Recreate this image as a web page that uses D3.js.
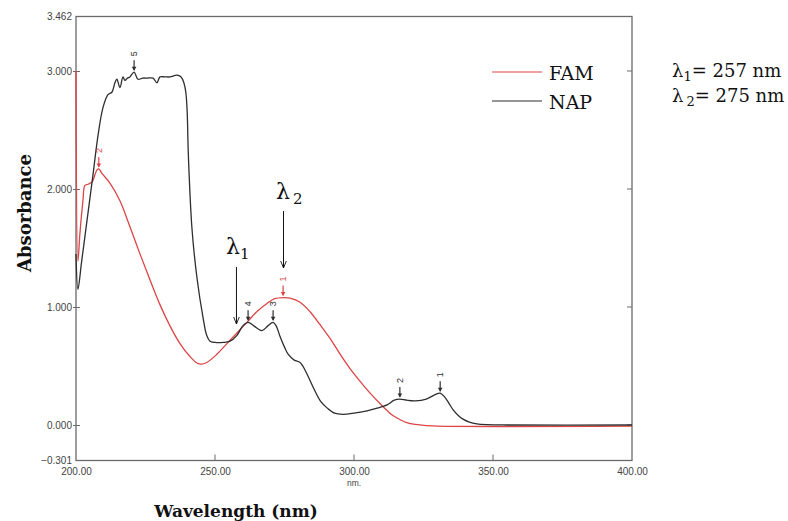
<!DOCTYPE html>
<html>
<head>
<meta charset="utf-8">
<script src="https://cdn.jsdelivr.net/npm/d3@7"></script>
<style>
  html, body { margin: 0; padding: 0; background: #fff; }
  svg { display: block; }
</style>
</head>
<body>
<svg id="chart" width="788" height="521"></svg>
<script>
// ---------- data ----------
const famSpectrum = [
  [200, 3.0], [200.7, 1.39], [201.4, 1.62], [202.5, 1.90], [203.2, 2.03], [204.3, 2.04],
  [205.8, 2.06], [206.8, 2.12], [207.5, 2.16], [208.2, 2.17], [209.4, 2.13], [212.2, 2.05],
  [215.8, 1.90], [219.4, 1.68], [223, 1.45], [226.6, 1.23], [230.2, 1.02], [233.8, 0.84],
  [237.4, 0.69], [241, 0.58], [243.5, 0.525], [245, 0.515], [247.1, 0.53], [250.7, 0.60],
  [254.3, 0.69], [257.9, 0.78], [261.9, 0.88], [265, 0.96], [268.7, 1.03], [271.5, 1.07],
  [274.5, 1.08], [277, 1.075], [280.6, 1.04], [284.2, 0.96], [287.8, 0.85], [291.5, 0.73],
  [295, 0.60], [298.5, 0.48], [302.2, 0.37], [305.8, 0.27], [309.4, 0.18], [312, 0.12],
  [314, 0.08], [317, 0.04], [319, 0.02], [322, 0.005], [326, -0.005], [330, -0.01], [400, -0.01]
];
const napSpectrum = [
  [200, 1.45], [200.7, 1.15], [202, 1.38], [204, 1.74], [206, 2.10], [207.9, 2.45],
  [209.7, 2.69], [211.5, 2.80], [212.9, 2.82], [214.0, 2.90], [214.7, 2.93], [215.8, 2.86],
  [216.9, 2.95], [217.6, 2.92], [218.5, 2.94], [219.4, 2.95], [220.9, 2.99], [222.3, 2.93],
  [224, 2.94], [225.5, 2.94], [227.7, 2.94], [229.1, 2.90], [230.2, 2.95], [232, 2.95],
  [233.8, 2.95], [236.3, 2.965], [237.8, 2.95], [238.8, 2.90], [239.5, 2.82], [240.0, 2.65],
  [240.4, 2.30], [241.7, 1.67], [243.5, 1.25], [245.7, 0.91], [247, 0.76], [248.2, 0.71],
  [250, 0.70], [253, 0.70], [255.4, 0.71], [257.9, 0.76], [260, 0.84], [261.9, 0.87],
  [264, 0.84], [266.9, 0.80], [269, 0.84], [270.9, 0.87], [272, 0.84], [273.4, 0.75],
  [275, 0.66], [276.3, 0.60], [278.5, 0.55], [280.6, 0.53], [282.5, 0.46], [285.3, 0.32],
  [288, 0.20], [290.3, 0.145], [293, 0.10], [296, 0.09], [300, 0.10], [304.7, 0.12],
  [308, 0.14], [311.9, 0.17], [314.5, 0.21], [316.5, 0.22], [319, 0.21], [322, 0.205],
  [326, 0.22], [329, 0.255], [331, 0.27], [332.5, 0.24], [334, 0.19], [335.6, 0.13],
  [337.5, 0.08], [339.2, 0.05], [341.5, 0.025], [344.2, 0.01], [348, 0.003], [355, 0], [400, 0]
];
const famPeaks = [ {n: "2", w: 208.2, a: 2.17}, {n: "1", w: 274.5, a: 1.08} ];
const napPeaks = [ {n: "5", w: 220.9, a: 2.99}, {n: "4", w: 261.9, a: 0.87}, {n: "3", w: 270.9, a: 0.87},
                   {n: "2", w: 316.5, a: 0.22}, {n: "1", w: 331, a: 0.27} ];
const xTicks = [200, 250, 300, 350, 400];
const yTicks = [-0.301, 0, 1, 2, 3, 3.462];
const seriesNames = ["FAM", "NAP"];
const lambda1 = 257, lambda2 = 275;

// ---------- layout ----------
const svg = d3.select("#chart");
const RED = "#de4446", DARK = "#2e2e2e", FRAME = "#6a6a6a";
const x = d3.scaleLinear().domain([200, 400]).range([76, 632]);
const y = d3.scaleLinear().domain([-0.301, 3.462]).range([460.5, 16.5]);

svg.append("rect").attr("width", 788).attr("height", 521).attr("fill", "#fff");

// frame
svg.append("rect")
  .attr("x", x(200)).attr("y", y(3.462))
  .attr("width", x(400) - x(200)).attr("height", y(-0.301) - y(3.462))
  .attr("fill", "none").attr("stroke", FRAME).attr("stroke-width", 1.3);

// y axis
const yAxis = d3.axisLeft(y).tickValues(yTicks).tickFormat(d3.format(".3f")).tickSize(3).tickPadding(2);
const gy = svg.append("g").attr("transform", `translate(${x(200)},0)`).call(yAxis);
gy.select(".domain").remove();
gy.selectAll(".tick line").attr("stroke", FRAME).attr("x2", 4).attr("x1", -3)
  .attr("display", d => (d === -0.301 || d === 3.462) ? "none" : null);
gy.selectAll(".tick text").attr("fill", "#444").attr("font-family", "Liberation Sans, Arial, sans-serif")
  .attr("font-size", 10).attr("x", -4);

// right inner ticks
svg.append("g").selectAll("line").data([0, 1, 2, 3]).join("line")
  .attr("x1", x(400) - 5).attr("x2", x(400)).attr("y1", d => y(d)).attr("y2", d => y(d))
  .attr("stroke", FRAME).attr("stroke-width", 1);

// x axis
const xAxis = d3.axisBottom(x).tickValues(xTicks).tickFormat(d3.format(".2f")).tickSize(0).tickPadding(7);
const gx = svg.append("g").attr("transform", `translate(0,${y(-0.301)})`).call(xAxis);
gx.select(".domain").remove();
gx.selectAll(".tick text").attr("fill", "#444").attr("font-family", "Liberation Sans, Arial, sans-serif")
  .attr("font-size", 10);
svg.append("g").selectAll("line").data(xTicks.slice(1, -1)).join("line")
  .attr("x1", d => x(d)).attr("x2", d => x(d)).attr("y1", y(-0.301)).attr("y2", y(-0.301) - 6)
  .attr("stroke", FRAME).attr("stroke-width", 1);
svg.append("text").attr("x", x(300)).attr("y", 486).attr("text-anchor", "middle")
  .attr("font-family", "Liberation Sans, Arial, sans-serif").attr("font-size", 8.5).attr("fill", "#444").text("nm.");

// axis titles
svg.append("text").attr("transform", `translate(31,213) rotate(-90)`).attr("text-anchor", "middle")
  .attr("font-family", "DejaVu Serif, serif").attr("font-weight", "bold").attr("font-size", 18)
  .attr("fill", "#111").text("Absorbance");
svg.append("text").attr("x", 236).attr("y", 517).attr("text-anchor", "middle")
  .attr("font-family", "DejaVu Serif, serif").attr("font-weight", "bold").attr("font-size", 17)
  .attr("fill", "#111").text("Wavelength (nm)");

// curves
const lineSmooth = d3.line().x(d => x(d[0])).y(d => y(d[1])).curve(d3.curveCatmullRom.alpha(0.5));
svg.append("path").datum(famSpectrum).attr("d", lineSmooth).attr("fill", "none")
  .attr("stroke", RED).attr("stroke-width", 1.3);
svg.append("path").datum(napSpectrum).attr("d", lineSmooth).attr("fill", "none")
  .attr("stroke", DARK).attr("stroke-width", 1.3);

// peak markers
function drawPeaks(peaks, color) {
  const g = svg.append("g");
  peaks.forEach(p => {
    const px = x(p.w), py = y(p.a);
    g.append("line").attr("x1", px).attr("x2", px).attr("y1", py - 2).attr("y2", py - 12)
      .attr("stroke", color).attr("stroke-width", 1.2);
    g.append("path").attr("d", `M${px - 2.3},${py - 5.5}L${px + 2.3},${py - 5.5}L${px},${py - 1.5}Z`)
      .attr("fill", color);
    g.append("text").attr("transform", `translate(${px},${py - 18.5}) rotate(-90)`)
      .attr("text-anchor", "middle").attr("dominant-baseline", "central")
      .attr("font-family", "Liberation Sans, Arial, sans-serif").attr("font-size", 9)
      .attr("fill", color).text(p.n);
  });
}
drawPeaks(famPeaks, RED);
drawPeaks(napPeaks, DARK);

// lambda annotations in plot
const defs = svg.append("defs");
defs.append("marker").attr("id", "arr").attr("viewBox", "0 0 10 10").attr("refX", 10).attr("refY", 5)
  .attr("markerWidth", 7).attr("markerHeight", 7).attr("orient", "auto-start-reverse")
  .attr("markerUnits", "userSpaceOnUse")
  .append("path").attr("d", "M0,1L10,5L0,9").attr("fill", "none").attr("stroke", "#111").attr("stroke-width", 1.3);

function lambdaLabel(g, tx, ty, sub, size, gap) {
  const t = g.append("text").attr("x", tx).attr("y", ty)
    .attr("font-family", "DejaVu Serif, serif").attr("font-size", size).attr("fill", "#111");
  t.append("tspan").text("λ");
  t.append("tspan").attr("dx", gap).attr("dy", size * 0.22).attr("font-size", size * 0.68).text(sub);
  return t;
}
const ann = svg.append("g");
ann.append("line").attr("x1", x(lambda1) + 2).attr("x2", x(lambda1) + 2).attr("y1", 267).attr("y2", 324)
  .attr("stroke", "#111").attr("stroke-width", 1).attr("marker-end", "url(#arr)");
ann.append("line").attr("x1", x(lambda2) - 1).attr("x2", x(lambda2) - 1).attr("y1", 211).attr("y2", 268)
  .attr("stroke", "#111").attr("stroke-width", 1).attr("marker-end", "url(#arr)");
lambdaLabel(ann, 226, 254, "1", 22, 0);
lambdaLabel(ann, 276, 199, "2", 22, 3);

// legend
const legend = svg.append("g");
const legendItems = [ {name: seriesNames[0], color: RED, y: 72}, {name: seriesNames[1], color: DARK, y: 101} ];
legendItems.forEach(it => {
  legend.append("line").attr("x1", 492).attr("x2", 542).attr("y1", it.y).attr("y2", it.y)
    .attr("stroke", it.color).attr("stroke-width", 1.2);
  legend.append("text").attr("x", 549).attr("y", it.y + 8).attr("font-family", "DejaVu Serif, serif")
    .attr("font-size", 19).attr("fill", "#111").text(it.name);
});

// right side lambda values
function lambdaValue(ty, sub, val, gap) {
  const t = svg.append("text").attr("x", 672).attr("y", ty)
    .attr("font-family", "DejaVu Serif, serif").attr("font-size", 18).attr("fill", "#111");
  t.append("tspan").text("λ");
  t.append("tspan").attr("dx", gap).attr("dy", 4).attr("font-size", 13).text(sub);
  t.append("tspan").attr("dy", -4).text("= " + val + " nm");
}
lambdaValue(77, "1", lambda1, 0);
lambdaValue(102, "2", lambda2, 3);
</script>
</body>
</html>
